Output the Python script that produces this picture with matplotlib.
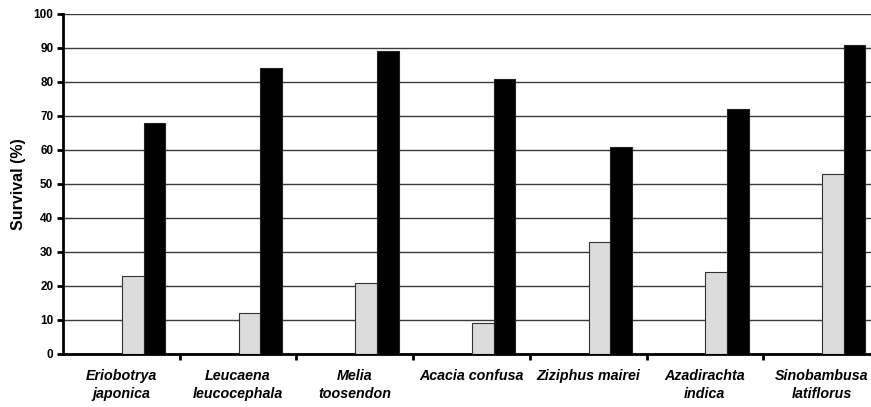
import numpy as np
import matplotlib
matplotlib.use('Agg')
import matplotlib.pyplot as plt

plt.rcParams['font.family'] = ['Liberation Sans', 'DejaVu Sans']

# -----------------------------------------------------------
species = ['Eriobotrya\njaponica', 'Leucaena\nleucocephala', 'Melia\ntoosendon',
           'Acacia confusa', 'Ziziphus mairei', 'Azadirachta\nindica',
           'Sinobambusa\nlatiflorus']
survival_gray = [23, 12, 21, 9, 33, 24, 53]
survival_black = [68, 84, 89, 81, 61, 72, 91]
yticks = list(range(0, 101, 10))

# -----------------------------------------------------------
fig = plt.figure(figsize=(8.71, 4.07), dpi=100)
ax = fig.add_axes([63/871, 53/407, 808/871, 340/407])

x = np.arange(len(species))
w = 0.185
ax.bar(x + 0.505, survival_gray, width=w, align='edge',
       color='#dcdcdc', edgecolor='#333333', linewidth=0.8, zorder=3)
ax.bar(x + 0.69, survival_black, width=w, align='edge',
       color='black', edgecolor='#222222', linewidth=0.8, zorder=3)

ax.set_xlim(0, 808/116.7)
ax.set_ylim(0, 100)

ax.set_yticks(yticks)
ax.set_yticklabels([str(v) for v in yticks], fontsize=8.5, fontweight='bold')
ax.yaxis.grid(True, color='#3a3a3a', linewidth=1.0, zorder=0)
ax.set_axisbelow(True)

# category boundary ticks, labels centred between them
ax.set_xticks(np.arange(1, len(species)))
ax.set_xticklabels([])
ax.set_xticks(x + 0.5, minor=True)
ax.set_xticklabels(species, minor=True, fontsize=10.3, fontweight='bold',
                   fontstyle='italic', linespacing=1.3)
ax.tick_params(axis='x', which='minor', length=0, pad=11)
ax.tick_params(axis='x', which='major', length=4, width=2, direction='out')
ax.tick_params(axis='y', length=4, width=2, direction='out', pad=3)

for s in ['top', 'right']:
    ax.spines[s].set_visible(False)
ax.spines['left'].set_linewidth(2)
ax.spines['bottom'].set_linewidth(2)

ax.set_ylabel('Survival (%)', fontsize=11.5, fontweight='bold', labelpad=5)

fig.savefig('out.png', dpi=100)
